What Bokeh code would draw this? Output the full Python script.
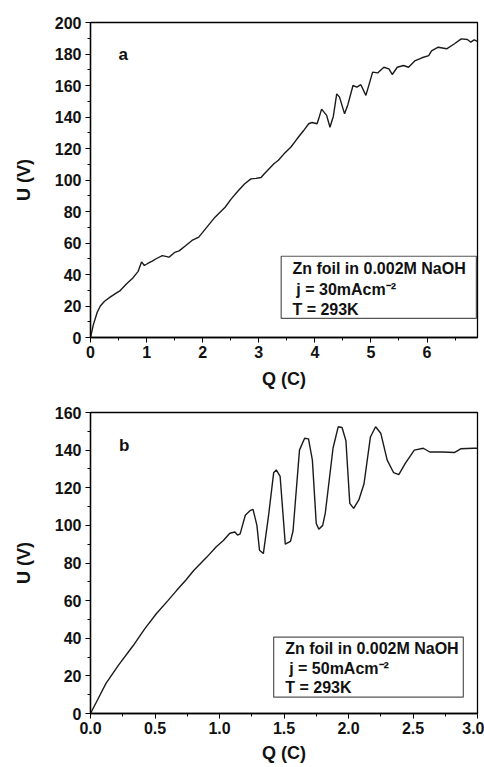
from bokeh.plotting import figure
from bokeh.layouts import column
from bokeh.models import Range1d, Label, BoxAnnotation, SingleIntervalTicker, PrintfTickFormatter
from bokeh.embed import file_html
from bokeh.resources import INLINE

# ---- panel a data ----
qa = [0, 0.05, 0.12, 0.175, 0.25, 0.35, 0.45, 0.53, 0.64, 0.76, 0.85, 0.91, 0.96, 1.02, 1.1, 1.17,
      1.28, 1.4, 1.5, 1.58, 1.7, 1.81, 1.93, 2.05, 2.22, 2.4, 2.51, 2.63, 2.75, 2.86, 2.95, 3.04,
      3.1, 3.27, 3.35, 3.45, 3.57, 3.68, 3.8, 3.89, 3.95, 4.04, 4.07, 4.12, 4.21, 4.27, 4.33,
      4.39, 4.44, 4.53, 4.59, 4.68, 4.75, 4.82, 4.91, 4.97, 5.03, 5.12, 5.23, 5.32, 5.38, 5.47,
      5.58, 5.67, 5.79, 5.91, 6.03, 6.08, 6.2, 6.35, 6.49, 6.61, 6.72, 6.78, 6.84, 6.9]
ua = [0, 8, 16, 20, 23, 25.6, 28, 29.8, 34, 38, 42, 48, 45.7, 47, 48.5, 50,
      52, 51, 54, 55, 58.4, 61.6, 63.7, 69, 76.4, 82.7, 88, 93, 97.6, 100.7, 101, 101.6,
      104, 110.3, 112.5, 116.6, 120.8, 126, 131.4, 135.7, 136.5, 135.7, 139, 145, 141, 133.5, 140.5,
      154.7, 152.6, 142, 148, 160, 159, 160.5, 153.7, 161, 168.5, 168, 171.6, 170.6, 167, 171.6,
      172.7, 171.6, 175.8, 177.6, 179, 182, 184.3, 183.3, 186.5, 189.6, 189.2, 187.5, 189, 188]

# ---- panel b data ----
qb = [0, 0.06, 0.12, 0.22, 0.33, 0.42, 0.51, 0.6, 0.67, 0.74, 0.8, 0.9, 0.975, 1.03, 1.08, 1.12,
      1.14, 1.16, 1.2, 1.24, 1.26, 1.29, 1.31, 1.34, 1.38, 1.42, 1.44, 1.47, 1.51, 1.55, 1.57,
      1.62, 1.66, 1.69, 1.72, 1.75, 1.77, 1.8, 1.82, 1.88, 1.92, 1.95, 1.98, 2.01, 2.04, 2.08,
      2.12, 2.17, 2.21, 2.25, 2.3, 2.35, 2.39, 2.44, 2.51, 2.58, 2.63, 2.73, 2.82, 2.87, 2.97, 3.0]
ub = [0, 8, 16, 26, 36, 45, 53, 60, 65.6, 71, 76, 83, 88.6, 92, 95.8, 96.5,
      94.8, 95.5, 105.4, 108, 108.5, 100, 86.8, 85, 105, 128, 129.5, 126, 90, 91.5, 97,
      140, 146.3, 146, 134.7, 101, 98, 100, 106.5, 141, 152.4, 152, 145, 111.7, 109, 113.5,
      122, 147, 152.4, 149, 134.7, 128, 127, 133, 140, 141, 139, 139, 138.7, 140.7, 141, 141]

FONT = "Liberation Sans"


def style(p, xint, yint, xfmt=None, xstand=8):
    p.xgrid.visible = False
    p.ygrid.visible = False
    p.outline_line_color = "black"
    p.outline_line_width = 1.3
    p.xaxis.ticker = SingleIntervalTicker(interval=xint, num_minor_ticks=2)
    p.yaxis.ticker = SingleIntervalTicker(interval=yint, num_minor_ticks=2)
    if xfmt:
        p.xaxis.formatter = PrintfTickFormatter(format=xfmt)
    for ax in (p.xaxis, p.yaxis):
        ax.axis_line_color = "black"
        ax.axis_line_width = 1.3
        ax.major_tick_in = 0
        ax.major_tick_out = 5
        ax.minor_tick_in = 0
        ax.minor_tick_out = 3
        ax.major_tick_line_color = "black"
        ax.minor_tick_line_color = "black"
        ax.major_label_text_font = FONT
        ax.major_label_text_font_style = "bold"
        ax.major_label_text_font_size = "16px"
        ax.major_label_text_color = "#111111"
        ax.axis_label_text_font = FONT
        ax.axis_label_text_font_style = "bold"
        ax.axis_label_text_font_size = "18px"
        ax.axis_label_text_color = "#111111"
    p.xaxis.major_label_standoff = 3
    p.yaxis.major_label_standoff = 4
    p.xaxis.axis_label_standoff = xstand
    p.yaxis.axis_label_standoff = 18


def add_text(p, x, y, txt, size="16px"):
    p.add_layout(Label(x=x, y=y, text=txt, text_font=FONT, text_font_style="bold",
                       text_font_size=size, text_baseline="middle", text_align="left",
                       text_color="#111111"))


# Figure a
p1 = figure(width=484, height=396, output_backend="svg", toolbar_location=None,
            x_range=Range1d(0, 6.9), y_range=Range1d(0, 200),
            x_axis_label="Q (C)", y_axis_label="U (V)",
            min_border_left=90, min_border_right=0, min_border_top=22, min_border_bottom=59)
p1.line(qa, ua, line_color="#1a1a1a", line_width=1.4)
style(p1, 1, 20, xstand=8)
p1.add_layout(BoxAnnotation(left=3.40, right=6.88, bottom=12.1, top=51.6,
                            fill_color="white", fill_alpha=1.0,
                            line_color="#555555", line_width=1.2, line_alpha=1.0))
add_text(p1, 3.60, 43.8, "Zn foil in 0.002M NaOH")
add_text(p1, 3.67, 30.5, "j = 30mAcm\u207b\u00b2")
add_text(p1, 3.60, 17.8, "T = 293K")
add_text(p1, 0.5, 180, "a", size="17px")

# Figure b
p2 = figure(width=484, height=371, output_backend="svg", toolbar_location=None,
            x_range=Range1d(0, 3.0), y_range=Range1d(0, 160),
            x_axis_label="Q (C)", y_axis_label="U (V)",
            min_border_left=90, min_border_right=7, min_border_top=16, min_border_bottom=54)
p2.line(qb, ub, line_color="#1a1a1a", line_width=1.4)
style(p2, 0.5, 20, xfmt="%.1f", xstand=6)
p2.add_layout(BoxAnnotation(left=1.42, right=2.89, bottom=8.7, top=40.6,
                            fill_color="white", fill_alpha=1.0,
                            line_color="#555555", line_width=1.2, line_alpha=1.0))
add_text(p2, 1.51, 34.7, "Zn foil in 0.002M NaOH")
add_text(p2, 1.54, 24.1, "j = 50mAcm\u207b\u00b2")
add_text(p2, 1.51, 14.0, "T = 293K")
add_text(p2, 0.22, 142.6, "b", size="17px")

layout = column(p1, p2, spacing=0)
open("out.html", "w").write(file_html(layout, INLINE))
